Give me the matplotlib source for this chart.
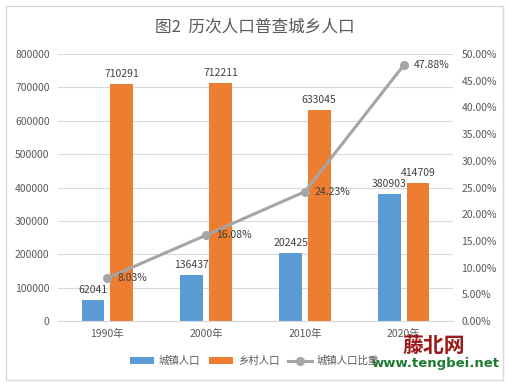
import matplotlib.pyplot as plt
from matplotlib.patches import Rectangle
import numpy as np

plt.rcParams['font.family'] = ['Noto Sans CJK SC', 'DejaVu Sans']

years = ['1990年', '2000年', '2010年', '2020年']
urban = [62041, 136437, 202425, 380903]
rural = [710291, 712211, 633045, 414709]
ratio = [8.03, 16.08, 24.23, 47.88]
ratio_labels = ['8.03%', '16.08%', '24.23%', '47.88%']

blue = '#5B9BD5'
orange = '#ED7D31'
gray = '#A5A5A5'
txt = '#595959'

fig = plt.figure(figsize=(5.09, 3.84), dpi=100)
fig.patches.append(Rectangle((6/509, 4/384), 497/509, 374/384, transform=fig.transFigure,
                             fill=False, edgecolor='#D9D9D9', lw=1))
ax = fig.add_axes([58/509, 1-321/384, 395/509, 267/384])
x = np.arange(len(years))
w = 0.23
b1 = ax.bar(x - 0.145, urban, w, color=blue, label='城镇人口', zorder=2)
b2 = ax.bar(x + 0.145, rural, w, color=orange, label='乡村人口', zorder=2)
ax.set_ylim(0, 800000)
ax.set_xlim(-0.5, 3.5)
ax.set_yticks(range(0, 800001, 100000))
ax.yaxis.grid(True, color='#D9D9D9', lw=0.8, zorder=0)
for s in ax.spines.values():
    s.set_visible(False)
ax.spines['bottom'].set_visible(True)
ax.spines['bottom'].set_color('#D9D9D9')
ax.tick_params(length=0, labelsize=7.5, colors=txt, pad=6)
ax.set_xticks(x)
ax.set_xticklabels(years)
for i in range(len(years)):
    ax.text(x[i] - 0.145, urban[i] + 15000, str(urban[i]), ha='center', va='bottom', fontsize=7.5, color='#404040')
    ax.text(x[i] + 0.145, rural[i] + 15000, str(rural[i]), ha='center', va='bottom', fontsize=7.5, color='#404040')

ax2 = ax.twinx()
ax2.set_ylim(0, 50)
ax2.set_yticks(range(0, 51, 5))
ax2.set_yticklabels(['%.2f%%' % v for v in range(0, 51, 5)])
for s in ax2.spines.values():
    s.set_visible(False)
ax2.tick_params(length=0, labelsize=7.5, colors=txt, pad=6)
l, = ax2.plot(x, ratio, color=gray, lw=2.2, marker='o', ms=5.5, label='城镇人口比重', zorder=3)
for i in range(len(years)):
    ax2.text(x[i] + 0.1, ratio[i], ratio_labels[i], ha='left', va='center', fontsize=7.5, color='#404040')

fig.text(0.5, 1-27/384, '图2  历次人口普查城乡人口', ha='center', va='center', fontsize=12, color=txt)
fig.legend([b1, b2, l], ['城镇人口', '乡村人口', '城镇人口比重'], loc='center', bbox_to_anchor=(0.5, 1-361/384),
           ncol=3, frameon=False, fontsize=7.5, labelcolor=txt, handlelength=2.3, columnspacing=0.8, handletextpad=0.5)

# watermark
fig.text(434/509, 1-345/384, '藤北网', ha='center', va='center', fontsize=15, color='#9B1B1B', fontweight='bold')
fig.text(436/509, 1-364/384, 'www.tengbei.net', ha='center', va='center', fontsize=9.5, color='#1E7B32', fontweight='bold',
         family='DejaVu Sans')

fig.savefig('out.png', dpi=100)
